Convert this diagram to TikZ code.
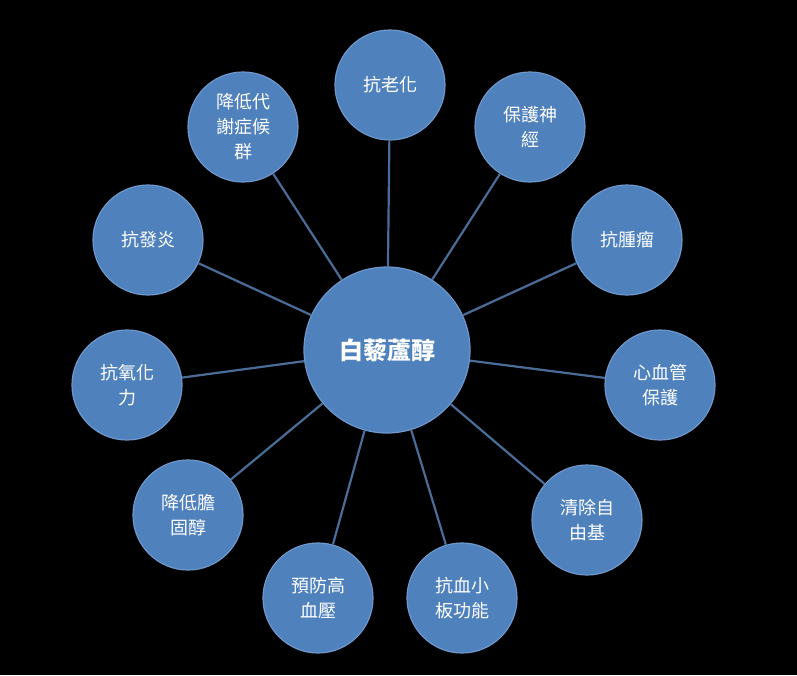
\documentclass[tikz,border=0pt]{standalone}
\usepackage{fontspec}
\newfontfamily\cjk{Noto Sans CJK TC}
\begin{document}
\begin{tikzpicture}[x=1pt,y=-1pt,
  bub/.style={circle,fill=bubblue,draw=bubedge,line width=1.2pt,minimum size=110pt,inner sep=0pt,text=white,align=center,font=\cjk\fontsize{18}{25}\selectfont},
  link/.style={draw=linkblue,line width=2.2pt}]
\definecolor{bubblue}{HTML}{4F81BD}
\definecolor{bubedge}{HTML}{6E98CC}
\definecolor{linkblue}{HTML}{4A6C98}
\fill[black] (0,0) rectangle (797,675);
\useasboundingbox (0,0) rectangle (797,675);
\node[bub,minimum size=166pt,font=\cjk\bfseries\fontsize{24}{28}\selectfont] (c) at (387,350) {白藜蘆醇};
\foreach \n/\x/\y/\t in {a/390/85/抗老化, b/530/127/{保護神\\經}, d/627/240/抗腫瘤, e/660/385/{心血管\\保護}, f/587/520/{清除自\\由基}, g/462/598/{抗血小\\板功能}, h/318/598/{預防高\\血壓}, i/188/515/{降低膽\\固醇}, j/127/385/{抗氧化\\力}, k/148/240/抗發炎, l/243/127/{降低代\\謝症候\\群}}{
  \node[bub] (\n) at (\x,\y) {\t};
}
\begin{scope}[on background layer/.style={}]
\end{scope}
\foreach \n in {a,b,d,e,f,g,h,i,j,k,l}{
  \path[link] (c) -- (\n);
}
\end{tikzpicture}
\end{document}
